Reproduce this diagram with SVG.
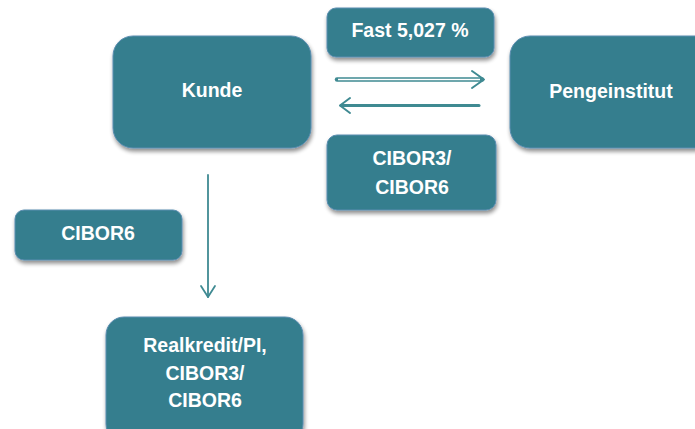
<svg xmlns="http://www.w3.org/2000/svg" width="695" height="429" viewBox="0 0 695 429">
<defs>
<filter id="sh" x="-10%" y="-10%" width="125%" height="130%">
<feGaussianBlur in="SourceAlpha" stdDeviation="2"/>
<feOffset dx="1" dy="3" result="b"/>
<feComponentTransfer><feFuncA type="linear" slope="0.45"/></feComponentTransfer>
<feMerge><feMergeNode/><feMergeNode in="SourceGraphic"/></feMerge>
</filter>
</defs>
<style>
.box{fill:#357E8E;stroke:#5B8DB0;stroke-width:1;filter:url(#sh)}
.t{fill:#fff;font-family:"Liberation Sans",Arial,sans-serif;font-weight:bold;font-size:19.5px;text-anchor:middle}
.ln{fill:none;stroke:#3F8A92;stroke-linecap:round;stroke-linejoin:round}
</style>
<rect width="695" height="429" fill="#fff"/>
<g id="connectors">
<line class="ln" x1="337" y1="79.5" x2="482" y2="79.5" stroke-width="4.5"/>
<line x1="338" y1="79.5" x2="480" y2="79.5" stroke="#fff" stroke-width="1.6"/>
<polyline class="ln" points="472,71 484,79.5 472,88" stroke-width="2"/>
<line class="ln" x1="341" y1="105.5" x2="479" y2="105.5" stroke-width="3"/>
<polyline class="ln" points="350,98 340,105.5 350,113" stroke-width="2"/>
<line class="ln" x1="208" y1="175" x2="208" y2="297" stroke-width="1.8"/>
<polyline class="ln" points="201,286 208,297 215,286" stroke-width="1.8"/>
</g>
<g id="kunde">
<rect class="box" x="113" y="36" width="198" height="112" rx="20"/>
<text class="t" x="212" y="97">Kunde</text>
</g>
<g id="pengeinstitut">
<rect class="box" x="510" y="36" width="205" height="112" rx="20"/>
<text class="t" x="611" y="98">Pengeinstitut</text>
</g>
<g id="fast">
<rect class="box" x="327" y="8" width="167" height="49" rx="9"/>
<text class="t" x="410" y="37">Fast 5,027 %</text>
</g>
<g id="cibor3-cibor6">
<rect class="box" x="327" y="135" width="169" height="75" rx="10"/>
<text class="t" x="412" y="165">CIBOR3/</text>
<text class="t" x="412" y="194">CIBOR6</text>
</g>
<g id="cibor6">
<rect class="box" x="15" y="210" width="167" height="50" rx="9"/>
<text class="t" x="98" y="240">CIBOR6</text>
</g>
<g id="realkredit">
<rect class="box" x="106" y="317" width="197" height="125" rx="18"/>
<text class="t" x="205" y="352">Realkredit/PI,</text>
<text class="t" x="205" y="380">CIBOR3/</text>
<text class="t" x="205" y="407">CIBOR6</text>
</g>
</svg>
